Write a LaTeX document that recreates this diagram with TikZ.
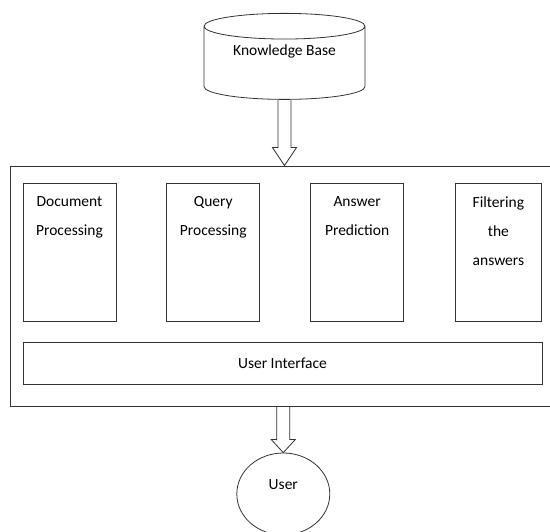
\documentclass[tikz,border=0pt]{standalone}
\usepackage{fontspec}
\setmainfont{Carlito}
\usepackage{tikz}
\usetikzlibrary{positioning,shapes.geometric,calc}

\begin{document}
\begin{tikzpicture}[
  x=1pt, y=1pt,
  node distance=50pt,
  line/.style={draw=black!80, line width=0.8pt},
  mod/.style ={line, minimum width=93pt, minimum height=138pt, inner sep=0pt},
  txt/.style ={align=center, font=\fontsize{15.5}{29}\selectfont, inner sep=0pt},
  fat/.style ={line, to path={let \p1=(\tikztostart), \p2=(\tikztotarget) in
      (\x1-6.5pt,\y1) -- (\x1-6.5pt,\y2+#1) -- (\x1-12pt,\y2+#1) -- (\x1,\y2)
      -- (\x1+12pt,\y2+#1) -- (\x1+6.5pt,\y2+#1) -- (\x1+6.5pt,\y1)}}
]
\useasboundingbox (0,0) rectangle (550,532);
\fill[white] (0,0) rectangle (550,532);

% knowledge base on top
\node[line, cylinder, shape border rotate=90, aspect=0.25,
      minimum width=161pt, minimum height=86pt, inner sep=0pt,
      txt, text depth=26pt] (kb) at (284.5,469) {Knowledge Base};

% system frame
\node[line, minimum width=541pt, minimum height=240pt, inner sep=0pt] (sys) at (280.5,246) {};

\node[mod] (doc) at (69.5,280) {};
\node[mod, right=50pt of doc]  (qry) {};
\node[mod, right=50pt of qry]  (ans) {};
\node[mod, minimum width=86pt, right=51pt of ans] (flt) {};
\node[txt, below=14pt of doc.north] (doct) {Document\\Processing};
\node[txt, below=14pt of qry.north] (qryt) {Query\\Processing};
\node[txt, below=14pt of ans.north] (anst) {Answer\\Prediction};
\node[txt, below=14pt of flt.north] (fltt) {Filtering\\the\\answers};

\node[line, txt, minimum width=519pt, minimum height=42pt] (ui) at (282.5,169) {User Interface};

% user
\node[line, ellipse, minimum width=93pt, minimum height=82pt, inner sep=0pt,
      txt, text depth=18pt] (usr) at (283.3,38) {User};

\draw[fat=18pt] (kb.south) to (sys.north -| kb.south);
\draw[fat=13pt] (usr.north |- sys.south) to (usr.north);
\end{tikzpicture}
\end{document}
